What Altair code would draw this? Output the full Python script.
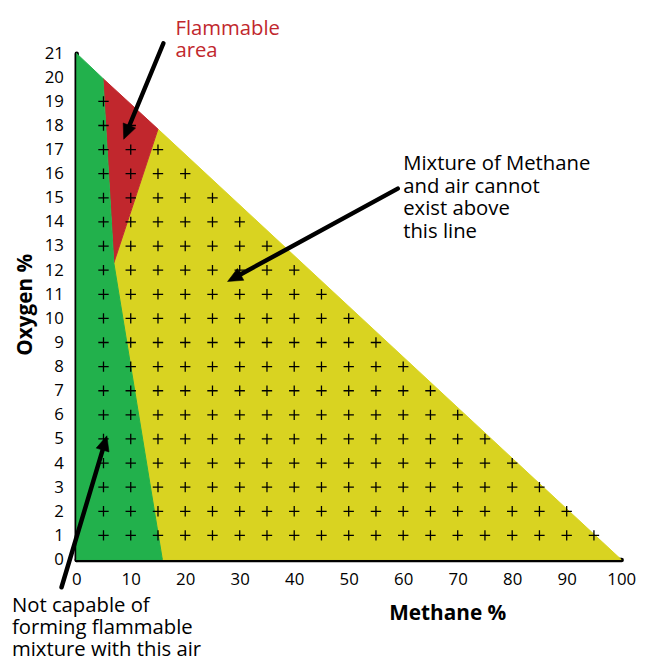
import math
import altair as alt
import pandas as pd

# ---------------- data ----------------
W, H = 551, 512
X_MAX, Y_MAX = 100, 21

methane_ticks = [0, 10, 20, 30, 40, 50, 60, 70, 80, 90, 100]
oxygen_ticks = list(range(0, 22))

# region outlines (Methane %, Oxygen %)
green_x = [0, 4.9, 6.9, 15.8, 0]
green_y = [21, 19.95, 12.3, 0, 0]
red_x = [4.9, 15.0, 6.9]
red_y = [19.95, 17.85, 12.3]
yellow_x = [15.0, 100, 15.8, 6.9]
yellow_y = [17.85, 0, 0, 12.3]

# grid of "+" marks: for each oxygen level, how many methane columns carry a mark
plus_methane = [5, 10, 15, 20, 25, 30, 35, 40, 45, 50, 55, 60, 65, 70, 75, 80, 85, 90, 95]
plus_oxygen = [1, 2, 3, 4, 5, 6, 7, 8, 9, 10, 11, 12, 13, 14, 15, 16, 17, 18, 19]
plus_counts = [19, 18, 17, 16, 15, 14, 13, 12, 11, 10, 9, 8, 7, 6, 5, 4, 3, 2, 1]

# arrows: tail -> head (data coordinates)
arrow_tail_x = [16.0, 59.0, -2.7]
arrow_tail_y = [21.41, 15.38, -1.15]
arrow_head_x = [8.71, 27.77, 5.62]
arrow_head_y = [17.43, 11.53, 5.13]

# annotations
flam_text = ["Flammable\narea"]
flam_x, flam_y = [18.2], [21.74]
mix_text = ["Mixture of Methane\nand air cannot\nexist above\nthis line"]
mix_x, mix_y = [60.0], [16.15]
not_text = ["Not capable of\nforming flammable\nmixture with this air"]
not_x, not_y = [-11.8], [-2.17]

GREEN = "#22b14c"
RED = "#c1272d"
YELLOW = "#d9d321"
FONT = "Open Sans"

# ---------------- scales / encodings ----------------
xscale = alt.Scale(domain=[0, X_MAX], nice=False, zero=False)
yscale = alt.Scale(domain=[0, Y_MAX], nice=False, zero=False)

xaxis = alt.Axis(
    values=methane_ticks, title="Methane %", grid=False, ticks=False, tickSize=0,
    domain=True, domainColor="black", domainWidth=4.5, domainCap="round",
    labelFont=FONT, labelFontSize=17, labelColor="black", labelPadding=12,
    labelFlush=False, labelOverlap=False,
    titleFont=FONT, titleFontSize=21, titleFontWeight="bold", titleColor="black",
    titleX=316, titleY=61, titleAlign="left", titleBaseline="alphabetic",
)
yaxis = alt.Axis(
    values=oxygen_ticks, title="Oxygen %", grid=False, ticks=False, tickSize=0,
    domain=True, domainColor="black", domainWidth=4.5, domainCap="round",
    labelFont=FONT, labelFontSize=17, labelColor="black", labelPadding=13,
    labelFlush=False, labelOverlap=False,
    titleFont=FONT, titleFontSize=21, titleFontWeight="bold", titleColor="black",
    titleX=-45, titleY=254, titleAngle=270, titleAlign="center", titleBaseline="alphabetic",
)

X = alt.X("x:Q", scale=xscale, axis=xaxis)
Y = alt.Y("y:Q", scale=yscale, axis=yaxis)


def polygon(xs, ys, color):
    df = pd.DataFrame({"x": xs, "y": ys, "o": list(range(len(xs)))})
    return alt.Chart(df).mark_line(
        fill=color, stroke=color, strokeWidth=1, interpolate="linear"
    ).encode(x=X, y=Y, order="o:Q")


layers = [
    polygon(yellow_x, yellow_y, YELLOW),
    polygon(red_x, red_y, RED),
    polygon(green_x, green_y, GREEN),
]

# plus marks
rows = []
for oy, cnt in zip(plus_oxygen, plus_counts):
    for mx in plus_methane[:cnt]:
        rows.append({"x": mx, "y": oy})
plus_df = pd.DataFrame(rows)
layers.append(
    alt.Chart(plus_df).mark_point(
        shape="M-1,0L1,0M0,-1L0,1", filled=False, stroke="black",
        strokeWidth=1.3, size=110, opacity=1,
    ).encode(x=X, y=Y)
)

# arrows
sx, sy = W / X_MAX, H / Y_MAX
arr = []
for tx, ty, hx, hy in zip(arrow_tail_x, arrow_tail_y, arrow_head_x, arrow_head_y):
    dxp = (hx - tx) * sx
    dyp = -(hy - ty) * sy
    L = math.hypot(dxp, dyp)
    back = 9.0
    ex = hx - (dxp / L) * back / sx
    ey = hy + (dyp / L) * back / sy
    ang = math.degrees(math.atan2(dxp, -dyp)) % 360
    arr.append({"x": tx, "y": ty, "x2": ex, "y2": ey, "hx": hx, "hy": hy, "ang": ang})
arr_df = pd.DataFrame(arr)

layers.append(
    alt.Chart(arr_df).mark_rule(color="black", strokeWidth=4.5, strokeCap="round").encode(
        x=X, y=Y, x2=alt.X2("x2"), y2=alt.Y2("y2")
    )
)
head_df = pd.DataFrame({"x": arr_df["hx"], "y": arr_df["hy"], "ang": arr_df["ang"]})
layers.append(
    alt.Chart(head_df).mark_point(
        shape="M0,0L0.45,1L-0.45,1Z", filled=True, fill="black", stroke="black",
        strokeWidth=0.5, size=900, opacity=1,
    ).encode(x=X, y=Y, angle=alt.Angle("ang:Q", scale=None))
)


def label(xs, ys, texts, color, lh):
    df = pd.DataFrame({"x": xs, "y": ys, "t": texts})
    return alt.Chart(df).mark_text(
        align="left", baseline="alphabetic", font=FONT, fontSize=20.5,
        color=color, lineBreak="\n", lineHeight=lh,
    ).encode(x=X, y=Y, text="t:N")


layers.append(label(flam_x, flam_y, flam_text, RED, 21.5))
layers.append(label(mix_x, mix_y, mix_text, "black", 22.8))
layers.append(label(not_x, not_y, not_text, "black", 22.5))

chart = alt.layer(*layers).properties(
    width=W, height=H,
    padding={"left": 69, "top": 42, "right": 17, "bottom": 104},
    autosize=alt.AutoSizeParams(type="none"),
    background="white",
).configure_view(strokeWidth=0)

chart.save("out.html", embed_options={"renderer": "svg", "actions": False})
